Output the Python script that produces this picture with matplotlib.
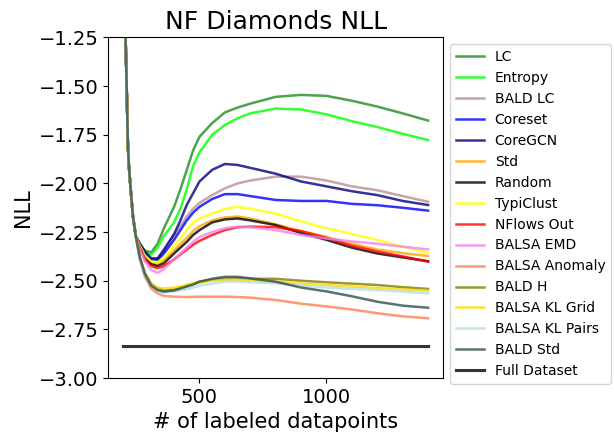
import matplotlib
matplotlib.use("Agg")
import matplotlib.pyplot as plt

# shared steep descent at the start (all curves overlap here)
x_head = [200, 205, 209, 214, 218, 222, 229, 238, 249]
y_head = [-0.75, -1.05, -1.25, -1.55, -1.80, -1.91, -2.03, -2.17, -2.27]

# per-series values after the curves separate
x_tail = [265, 285, 310, 335, 360, 400, 425, 450, 475, 500, 550, 600, 650, 700,
          800, 900, 1000, 1100, 1200, 1300, 1400]

lc = [-2.31, -2.345, -2.355, -2.31, -2.23, -2.12, -2.03, -1.93, -1.83, -1.76, -1.69, -1.635, -1.61, -1.59,
      -1.555, -1.545, -1.55, -1.575, -1.605, -1.64, -1.677]
entropy = [-2.31, -2.35, -2.365, -2.33, -2.27, -2.20, -2.13, -2.03, -1.91, -1.84, -1.75, -1.70, -1.665, -1.64,
           -1.615, -1.62, -1.645, -1.68, -1.71, -1.745, -1.777]
bald_lc = [-2.32, -2.36, -2.39, -2.39, -2.35, -2.27, -2.22, -2.17, -2.13, -2.10, -2.06, -2.025, -2.0, -1.985,
           -1.965, -1.965, -1.985, -2.015, -2.035, -2.065, -2.094]
coreset = [-2.32, -2.36, -2.39, -2.395, -2.36, -2.29, -2.24, -2.19, -2.15, -2.12, -2.08, -2.055, -2.055, -2.065,
           -2.085, -2.09, -2.09, -2.105, -2.112, -2.125, -2.14]
coregcn = [-2.31, -2.35, -2.385, -2.385, -2.34, -2.26, -2.19, -2.11, -2.05, -1.99, -1.93, -1.90, -1.905, -1.92,
           -1.95, -1.99, -2.015, -2.04, -2.06, -2.09, -2.111]
std = [-2.33, -2.375, -2.41, -2.415, -2.395, -2.345, -2.31, -2.28, -2.245, -2.22, -2.19, -2.175, -2.17, -2.18,
       -2.21, -2.245, -2.275, -2.31, -2.34, -2.358, -2.373]
random_ = [-2.33, -2.38, -2.415, -2.425, -2.41, -2.36, -2.33, -2.30, -2.265, -2.24, -2.20, -2.185, -2.18, -2.19,
           -2.214, -2.255, -2.29, -2.33, -2.36, -2.38, -2.40]
typiclust = [-2.32, -2.37, -2.40, -2.405, -2.38, -2.32, -2.28, -2.24, -2.20, -2.18, -2.155, -2.13, -2.12, -2.13,
             -2.155, -2.195, -2.23, -2.26, -2.29, -2.325, -2.356]
nflows_out = [-2.33, -2.39, -2.425, -2.435, -2.425, -2.39, -2.365, -2.34, -2.315, -2.295, -2.265, -2.24, -2.225, -2.222,
              -2.225, -2.245, -2.28, -2.32, -2.35, -2.375, -2.402]
balsa_emd = [-2.34, -2.40, -2.445, -2.46, -2.44, -2.39, -2.36, -2.33, -2.30, -2.275, -2.25, -2.23, -2.222, -2.225,
             -2.24, -2.265, -2.283, -2.298, -2.31, -2.325, -2.339]
balsa_anomaly = [-2.39, -2.48, -2.54, -2.565, -2.578, -2.582, -2.583, -2.584, -2.583, -2.582, -2.582, -2.582, -2.584, -2.587,
                 -2.599, -2.618, -2.632, -2.648, -2.667, -2.683, -2.693]
bald_h = [-2.38, -2.46, -2.515, -2.54, -2.55, -2.545, -2.535, -2.525, -2.515, -2.505, -2.495, -2.488, -2.487, -2.49,
          -2.49, -2.50, -2.508, -2.515, -2.522, -2.533, -2.542]
balsa_kl_grid = [-2.38, -2.46, -2.515, -2.535, -2.54, -2.535, -2.53, -2.52, -2.515, -2.51, -2.50, -2.495, -2.495, -2.497,
                 -2.505, -2.515, -2.522, -2.53, -2.538, -2.545, -2.551]
balsa_kl_pairs = [-2.39, -2.47, -2.525, -2.55, -2.56, -2.555, -2.55, -2.545, -2.535, -2.525, -2.515, -2.505, -2.505, -2.508,
                  -2.513, -2.525, -2.535, -2.542, -2.548, -2.556, -2.565]
bald_std = [-2.38, -2.465, -2.525, -2.548, -2.556, -2.55, -2.54, -2.53, -2.52, -2.505, -2.49, -2.48, -2.48, -2.488,
            -2.505, -2.535, -2.555, -2.58, -2.608, -2.628, -2.639]

full_x = [200, 1400]
full_y = [-2.835, -2.835]

labels = ["LC", "Entropy", "BALD LC", "Coreset", "CoreGCN", "Std", "Random", "TypiClust",
          "NFlows Out", "BALSA EMD", "BALSA Anomaly", "BALD H", "BALSA KL Grid",
          "BALSA KL Pairs", "BALD Std"]
series = [lc, entropy, bald_lc, coreset, coregcn, std, random_, typiclust, nflows_out,
          balsa_emd, balsa_anomaly, bald_h, balsa_kl_grid, balsa_kl_pairs, bald_std]
colors = ["forestgreen", "lime", "rosybrown", "blue", "navy", "orange", "black", "yellow",
          "red", "violet", "coral", "olive", "gold", "powderblue", "darkslategray"]

fig = plt.figure(figsize=(6.14, 4.36), dpi=100)
ax = fig.add_axes([0.176, 0.133, 0.546, 0.781])

xs = x_head + x_tail
for lab, ys, c in zip(labels, series, colors):
    ax.plot(xs, y_head + ys, color=c, lw=1.8, alpha=0.8, label=lab)
ax.plot(full_x, full_y, color="black", lw=2.2, alpha=0.8, label="Full Dataset")

ax.set_ylim(-3.0, -1.25)
ax.set_xlim(140, 1460)
ax.set_xticks([500, 1000])
ax.set_yticks([-3.0, -2.75, -2.5, -2.25, -2.0, -1.75, -1.5, -1.25])
ax.tick_params(labelsize=14)
ax.set_xlabel("# of labeled datapoints", fontsize=15)
ax.set_ylabel("NLL", fontsize=15)
ax.set_title("NF Diamonds NLL", fontsize=18)
ax.legend(loc="upper left", bbox_to_anchor=(1.0, 1.0), fontsize=10)

fig.savefig("out.png", dpi=100)
